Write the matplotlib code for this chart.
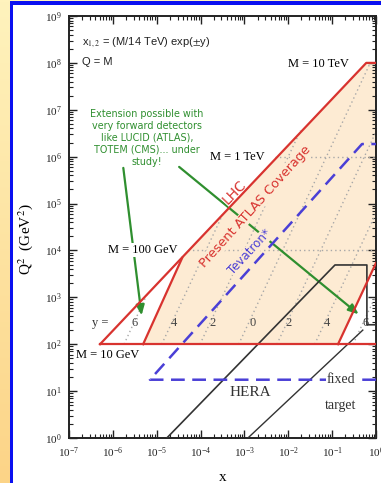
import numpy as np
import matplotlib
matplotlib.use('Agg')
import matplotlib.pyplot as plt
from matplotlib.ticker import LogLocator, NullFormatter
from matplotlib.colors import LinearSegmentedColormap

plt.rcParams['mathtext.fontset'] = 'stix'
plt.rcParams['font.family'] = 'Liberation Serif'

# ---------- kinematic regions (x, Q^2) ----------
# LHC kinematic limit (left edge) and top M = 10 TeV cut
lhc_edge_x = [5.1e-7, 0.6, 1.0]
lhc_edge_q2 = [1e2, 1e8, 1e8]
# bottom cut at M = 10 GeV
lhc_bottom_x = [5.1e-7, 1.0]
lhc_bottom_q2 = [1e2, 1e2]
# present ATLAS coverage, inner and outer rapidity edges
atlas_left_x = [4.9e-6, 3.8e-5]
atlas_left_q2 = [1e2, 6.9e3]
atlas_right_x = [0.136, 1.0]
atlas_right_q2 = [1e2, 5.4e3]

# Tevatron reach (dashed)
tev_x = [1.0, 7.0e-6, 0.48, 1.0]
tev_q2 = [17.5, 17.5, 1.86e6, 1.86e6]

# HERA reach and fixed target line
hera_x = [1.7e-5, 0.116, 0.62, 0.62, 1.0, 1.0]
hera_q2 = [1.0, 4.9e3, 4.9e3, 2.6e2, 2.6e2, 1.0]
ft_x = [1.2e-3, 0.5]
ft_q2 = [1.0, 2.0e2]

# lines of constant rapidity y = -6 ... 6 (start, end)
y_values = [6, 4, 2, 0, 2, 4, 6]
y_start_x = [1.8e-6, 1.3e-5, 9.7e-5, 7.4e-4, 5.5e-3, 0.040, 0.30]
y_start_q2 = [1e2] * 7
y_end_x = [6.1e-6, 3.4e-4, 1.9e-2, 0.74, 1.0, 1.0, 1.0]
y_end_q2 = [1.2e3, 6.6e4, 3.6e6, 1e8, 3.4e6, 6.2e4, 1.1e3]
y_label_x = [3.2e-6, 2.5e-5, 1.9e-4, 1.5e-3, 1.04e-2, 7.6e-2, 0.59]
y_label_q2 = 2.8e2

# lines of constant mass
m_q2 = [1e4, 1e6]
m_start_x = [5.1e-5, 5.1e-3]
m_labels = ['M = 10 GeV', 'M = 100 GeV', 'M = 1 TeV', 'M = 10 TeV']
m_label_x = [7.7e-7, 4.9e-6, 6.8e-4, 4.8e-2]
m_label_q2 = [59, 1.03e4, 9.9e5, 9.5e7]

# ---------- figure ----------
W, H = 381, 483
fig = plt.figure(figsize=(W / 100, H / 100), dpi=100)
fig.patch.set_facecolor('white')

# slide background strip and blue frame
bg = fig.add_axes([0, 0, 10.5 / W, 1])
grad = np.linspace(0, 1, 256)[:, None]
cm = LinearSegmentedColormap.from_list('slide', ['#fff3bd', '#fcd487'])
bg.imshow(grad, aspect='auto', cmap=cm, extent=[0, 1, 0, 1])
bg.set_axis_off()
fig.add_artist(plt.Rectangle((0, 1 - 1.5 / H), 1, 1.5 / H, transform=fig.transFigure,
                             color='#fff3bd', lw=0))
fig.add_artist(plt.Rectangle((10 / W, 0), 2.5 / W, 1 - 1.2 / H, transform=fig.transFigure,
                             color='#0a10f0', lw=0))
fig.add_artist(plt.Rectangle((10 / W, 1 - 4.5 / H), 1, 3 / H, transform=fig.transFigure,
                             color='#0a10f0', lw=0))

ax = fig.add_axes([69 / W, 45 / H, 307 / W, 422 / H])
ax.set_xscale('log')
ax.set_yscale('log')
ax.set_xlim(1e-7, 1)
ax.set_ylim(1, 1e9)

red = '#d8332f'
peach = '#fdebd3'
blue = '#4a3fd6'
green = '#2f8f2f'
dot = '#a8a8a8'

# filled ATLAS coverage
fill_x = atlas_left_x + lhc_edge_x[1:] + atlas_right_x[::-1]
fill_q2 = atlas_left_q2 + lhc_edge_q2[1:] + atlas_right_q2[::-1]
ax.fill(fill_x, fill_q2, color=peach, lw=0, zorder=1)

# constant rapidity and mass lines
for i in range(len(y_values)):
    ax.plot([y_start_x[i], y_end_x[i]], [y_start_q2[i], y_end_q2[i]],
            color=dot, lw=1, ls=(0, (1, 2.2)), zorder=2)
    ax.text(y_label_x[i], y_label_q2, str(y_values[i]), fontsize=9,
            ha='center', va='center', color='#444444', zorder=3)
ax.text(5.1e-7, y_label_q2, 'y =', fontsize=9, ha='center', va='center',
        color='#333333', zorder=3)
for q, xs in zip(m_q2, m_start_x):
    ax.plot([xs, 1], [q, q], color=dot, lw=1, ls=(0, (1, 2.2)), zorder=2)

# HERA and fixed target
ax.plot(hera_x, hera_q2, color='#333333', lw=1.2, zorder=4)
ax.plot(ft_x, ft_q2, color='#333333', lw=1.0, zorder=4)

# Tevatron
ax.plot(tev_x, tev_q2, color=blue, lw=1.8, ls=(0, (5.5, 3)), zorder=5)

# LHC outlines
ax.plot(lhc_edge_x, lhc_edge_q2, color=red, lw=1.6, zorder=5)
ax.plot(lhc_bottom_x, lhc_bottom_q2, color=red, lw=1.6, zorder=5)
ax.plot(atlas_left_x, atlas_left_q2, color=red, lw=1.6, zorder=5)
ax.plot(atlas_right_x, atlas_right_q2, color=red, lw=1.6, zorder=5)

# green arrows from the forward detector note
arrow = dict(arrowstyle='-|>,head_length=0.6,head_width=0.25', color=green, lw=1.6)
ax.annotate('', xy=(4.6e-6, 3.6e2), xytext=(1.7e-6, 6.6e5), arrowprops=arrow, zorder=2)
ax.annotate('', xy=(0.45, 4.0e2), xytext=(2.9e-5, 6.6e5), arrowprops=arrow, zorder=2)

# mass labels
for lab, xl, ql in zip(m_labels, m_label_x, m_label_q2):
    ax.text(xl, ql, lab, fontsize=9, ha='center', va='center', zorder=3,
            bbox=dict(facecolor='white', edgecolor='none', pad=0.5))

# region labels
ax.text(5.8e-4, 1.77e5, 'LHC', color=red, fontsize=10, family='DejaVu Sans',
        rotation=46, rotation_mode='anchor', ha='center', va='center', zorder=3,
        bbox=dict(facecolor='white', edgecolor='none', pad=0.3))
ax.text(1.8e-3, 8.8e4, 'Present ATLAS Coverage', color=red, fontsize=9.3,
        family='DejaVu Sans', rotation=48, rotation_mode='anchor',
        ha='center', va='center', zorder=3,
        bbox=dict(facecolor=peach, edgecolor='none', pad=0.3))
ax.text(1.34e-3, 9.3e3, 'Tevatron*', color=blue, fontsize=8.5, family='DejaVu Sans',
        rotation=47, rotation_mode='anchor', ha='center', va='center', zorder=3,
        bbox=dict(facecolor=peach, edgecolor='none', pad=0.3))
ax.text(1.34e-3, 9.2, 'HERA', fontsize=11, color='#333333', ha='center', va='center', zorder=6)
ax.text(0.159, 17.5, 'fixed', fontsize=10, color='#333333', ha='center', va='center',
        zorder=6, bbox=dict(facecolor='white', edgecolor='none', pad=0.8))
ax.text(0.159, 5.0, 'target', fontsize=10, color='#333333', ha='center', va='center',
        zorder=6)

# header text
ax.text(0.042, 0.936, r'x$_{1,2}$ = (M/14 TeV) exp($\pm$y)', transform=ax.transAxes,
        fontsize=8, family='Liberation Sans', ha='left', va='center', color='#222222')
ax.text(0.042, 0.891, 'Q = M', transform=ax.transAxes, fontsize=8,
        family='Liberation Sans', ha='left', va='center', color='#222222')
ax.text(0.254, 0.712, 'Extension possible with\nvery forward detectors\nlike LUCID (ATLAS),\n'
        'TOTEM (CMS)... under\nstudy!', transform=ax.transAxes, fontsize=6.9,
        family='DejaVu Sans', color=green, ha='center', va='center', linespacing=1.25)

# axes styling
ax.xaxis.set_major_locator(LogLocator(base=10, numticks=20))
ax.yaxis.set_major_locator(LogLocator(base=10, numticks=20))
ax.xaxis.set_minor_locator(LogLocator(base=10, subs=np.arange(2, 10), numticks=100))
ax.yaxis.set_minor_locator(LogLocator(base=10, subs=np.arange(2, 10), numticks=100))
ax.xaxis.set_minor_formatter(NullFormatter())
ax.yaxis.set_minor_formatter(NullFormatter())
ax.tick_params(which='both', direction='in', top=True, right=True, labelsize=8,
               colors='#222222')
ax.tick_params(which='major', length=6, width=1, pad=5)
ax.tick_params(which='minor', length=3, width=0.8)
for s in ax.spines.values():
    s.set_linewidth(1.4)
    s.set_color('#222222')

ax.set_xlabel('x', fontsize=11, va='center')
ax.xaxis.set_label_coords(0.5, -0.093)
ax.set_ylabel(r'Q$^2$  (GeV$^2$)', fontsize=11, va='center')
ax.yaxis.set_label_coords(-0.143, 0.47)

fig.savefig('out.png', dpi=100)
